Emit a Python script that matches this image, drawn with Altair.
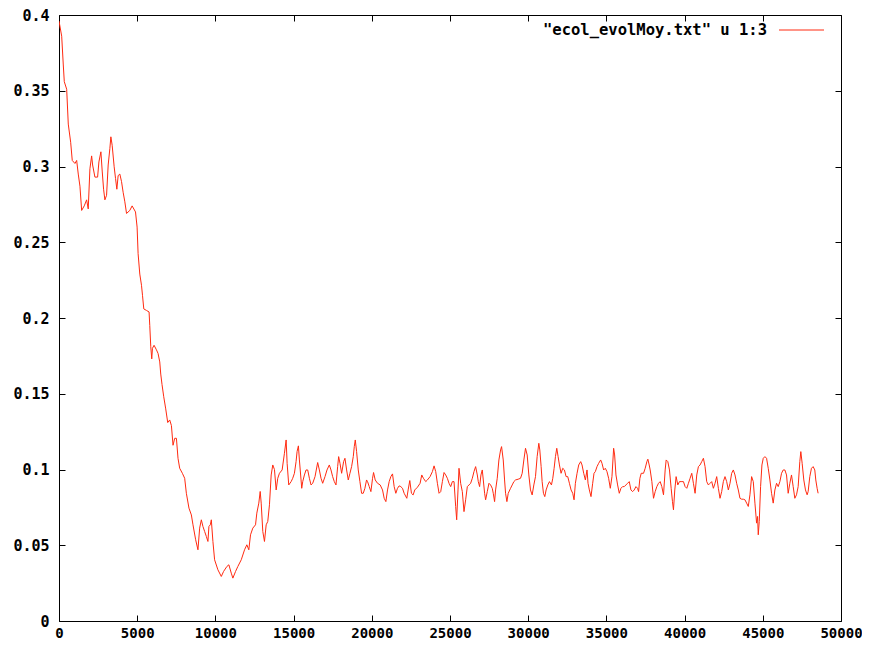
import altair as alt
import pandas as pd

# ---- data ----
generation = [
    0, 172, 274, 338, 491, 593, 746, 848, 1020, 1129, 1231, 1339, 1448, 1614, 1767, 1869,
    1977, 2086, 2149, 2296, 2468, 2551, 2679, 2762, 2851, 2934, 3042, 3144, 3253, 3316,
    3399, 3527, 3616, 3699, 3782, 3890, 3999, 4101, 4209, 4318, 4528, 4675, 4892, 4994,
    5058, 5166, 5274, 5338, 5421, 5593, 5759, 5804, 5868, 5931, 5976, 6078, 6231, 6333,
    6442, 6505, 6588, 6697, 6824, 6952, 7079, 7188, 7290, 7398, 7507, 7609, 7717, 7889,
    8036, 8144, 8310, 8463, 8566, 8738, 8884, 8993, 9101, 9203, 9312, 9420, 9522, 9586,
    9675, 9739, 9841, 9949, 10160, 10377, 10523, 10734, 10861, 11015, 11117, 11289, 11436,
    11653, 11863, 12010, 12137, 12246, 12392, 12565, 12648, 12775, 12864, 12928, 13030,
    13138, 13247, 13349, 13457, 13566, 13668, 13776, 13885, 13987, 14095, 14267, 14414,
    14523, 14586, 14689, 14841, 14943, 15052, 15158, 15222, 15307, 15371, 15477, 15520,
    15584, 15690, 15796, 15902, 16009, 16115, 16221, 16370, 16540, 16647, 16753, 16859,
    17008, 17135, 17284, 17391, 17497, 17603, 17710, 17816, 17880, 17965, 18071, 18198,
    18283, 18390, 18496, 18602, 18709, 18815, 18879, 18943, 19028, 19134, 19240, 19347,
    19453, 19559, 19665, 19729, 19836, 19942, 20048, 20112, 20218, 20367, 20537, 20686,
    20792, 20899, 21005, 21111, 21217, 21324, 21430, 21536, 21643, 21749, 21855, 21962,
    22068, 22238, 22323, 22429, 22535, 22642, 22748, 22918, 23088, 23194, 23301, 23449,
    23556, 23726, 23875, 23981, 24087, 24194, 24300, 24406, 24513, 24619, 24725, 24831,
    24938, 25044, 25150, 25257, 25363, 25427, 25512, 25576, 25682, 25788, 25895, 26001,
    26107, 26214, 26320, 26427, 26533, 26639, 26746, 26809, 26894, 26979, 27064, 27128,
    27213, 27277, 27383, 27490, 27596, 27702, 27766, 27851, 27915, 28021, 28127, 28234,
    28297, 28404, 28489, 28553, 28638, 28723, 28872, 28978, 29084, 29190, 29360, 29509,
    29616, 29722, 29828, 29935, 30041, 30147, 30253, 30360, 30466, 30572, 30679, 30742,
    30827, 30891, 30976, 31061, 31146, 31253, 31359, 31486, 31572, 31657, 31742, 31827,
    31912, 31997, 32103, 32209, 32316, 32422, 32528, 32635, 32741, 32847, 32932, 33017,
    33124, 33230, 33357, 33442, 33549, 33655, 33761, 33825, 33910, 34016, 34123, 34208,
    34293, 34399, 34505, 34633, 34718, 34824, 34931, 35037, 35143, 35250, 35356, 35462,
    35526, 35611, 35717, 35823, 35930, 36036, 36142, 36249, 36355, 36461, 36568, 36674,
    36780, 36887, 36993, 37057, 37142, 37227, 37375, 37481, 37588, 37651, 37736, 37800,
    37907, 38013, 38119, 38225, 38332, 38438, 38544, 38651, 38757, 38821, 38927, 39033,
    39140, 39225, 39288, 39373, 39458, 39565, 39671, 39777, 39926, 40032, 40139, 40245,
    40351, 40458, 40564, 40670, 40777, 40883, 40989, 41096, 41202, 41308, 41414, 41521,
    41627, 41733, 41840, 41946, 42052, 42159, 42265, 42371, 42477, 42584, 42690, 42796,
    42903, 43009, 43115, 43222, 43328, 43434, 43540, 43647, 43753, 43859, 43966, 44072,
    44178, 44285, 44391, 44497, 44603, 44667, 44710, 44773, 44858, 44944, 45029, 45135,
    45241, 45348, 45454, 45560, 45666, 45773, 45879, 45985, 46092, 46198, 46304, 46411,
    46517, 46623, 46729, 46836, 46942, 47048, 47155, 47261, 47367, 47431, 47516, 47622,
    47729, 47835, 47899, 48005, 48111, 48218, 48324, 48388, 48473, 48537,
]

mean_value = [
    0.396, 0.386, 0.367, 0.356, 0.351, 0.328, 0.316, 0.304, 0.302, 0.304, 0.295, 0.287,
    0.271, 0.274, 0.278, 0.272, 0.2985, 0.307, 0.301, 0.293, 0.293, 0.303, 0.3097, 0.297,
    0.285, 0.278, 0.281, 0.301, 0.312, 0.3196, 0.314, 0.2998, 0.292, 0.285, 0.294, 0.295,
    0.290, 0.283, 0.2767, 0.269, 0.271, 0.274, 0.270, 0.260, 0.2425, 0.229, 0.2216, 0.215,
    0.206, 0.205, 0.204, 0.195, 0.181, 0.173, 0.180, 0.182, 0.179, 0.1766, 0.171, 0.163,
    0.156, 0.148, 0.140, 0.131, 0.1327, 0.129, 0.116, 0.1206, 0.1206, 0.1074, 0.1008,
    0.0975, 0.0942, 0.0843, 0.0745, 0.070, 0.0635, 0.0536, 0.047, 0.0613, 0.0668, 0.0624,
    0.0591, 0.0558, 0.0525, 0.0624, 0.0635, 0.0668, 0.0525, 0.0404, 0.0338, 0.0294,
    0.0327, 0.036, 0.0371, 0.0316, 0.0283, 0.0327, 0.036, 0.0404, 0.047, 0.0503, 0.047,
    0.0569, 0.0613, 0.0635, 0.0712, 0.0778, 0.0855, 0.0778, 0.0591, 0.0525, 0.0635,
    0.0657, 0.0767, 0.0964, 0.103, 0.100, 0.0865, 0.0942, 0.0975, 0.0997, 0.1107, 0.1195,
    0.104, 0.0898, 0.092, 0.0942, 0.0975, 0.1052, 0.1118, 0.1156, 0.1063, 0.0931, 0.0876,
    0.0920, 0.0964, 0.0997, 0.0997, 0.0942, 0.0898, 0.0909, 0.0953, 0.1046, 0.0997,
    0.0942, 0.0909, 0.0953, 0.0997, 0.1030, 0.0997, 0.0953, 0.0920, 0.0898, 0.1019,
    0.1085, 0.1041, 0.0975, 0.1052, 0.1074, 0.0997, 0.0931, 0.0975, 0.1019, 0.1085,
    0.1151, 0.1195, 0.1118, 0.0997, 0.0920, 0.0843, 0.0843, 0.0876, 0.0931, 0.0920,
    0.0887, 0.0854, 0.0942, 0.0980, 0.0931, 0.0909, 0.0898, 0.0865, 0.0810, 0.0788,
    0.0865, 0.0920, 0.0953, 0.0971, 0.0887, 0.0843, 0.0876, 0.0892, 0.0887, 0.0876,
    0.0843, 0.0810, 0.0865, 0.0927, 0.0843, 0.0832, 0.0865, 0.0883, 0.0909, 0.0964,
    0.0942, 0.0920, 0.0931, 0.0953, 0.0986, 0.1024, 0.0986, 0.0909, 0.0843, 0.0854,
    0.0920, 0.0980, 0.0964, 0.0942, 0.0909, 0.0887, 0.0920, 0.0920, 0.0755, 0.0668,
    0.0865, 0.1008, 0.0909, 0.0854, 0.0722, 0.0800, 0.0887, 0.0898, 0.0909, 0.0942,
    0.0986, 0.1019, 0.0964, 0.0920, 0.0887, 0.0964, 0.0997, 0.0931, 0.0843, 0.0800,
    0.0854, 0.0909, 0.0898, 0.0876, 0.0843, 0.0788, 0.0865, 0.0942, 0.1063, 0.1129,
    0.1151, 0.1063, 0.0931, 0.0843, 0.0788, 0.0843, 0.0876, 0.0898, 0.0920, 0.0931,
    0.0936, 0.0942, 0.0975, 0.1063, 0.1140, 0.1096, 0.0964, 0.0865, 0.0832, 0.0898,
    0.0953, 0.1085, 0.1173, 0.1129, 0.1019, 0.0920, 0.0843, 0.0821, 0.0865, 0.0898,
    0.0920, 0.0898, 0.0942, 0.1008, 0.1085, 0.1140, 0.1085, 0.1030, 0.0975, 0.1008,
    0.0997, 0.0953, 0.0953, 0.0909, 0.0865, 0.0843, 0.0800, 0.0909, 0.0975, 0.1030,
    0.1052, 0.1030, 0.0975, 0.0931, 0.0997, 0.0909, 0.0865, 0.0821, 0.0909, 0.0975,
    0.0986, 0.1019, 0.1041, 0.1063, 0.1041, 0.0997, 0.1008, 0.0986, 0.0942, 0.0876,
    0.0953, 0.1140, 0.1096, 0.0964, 0.0898, 0.0843, 0.0876, 0.0887, 0.0887, 0.0898,
    0.0909, 0.0920, 0.0865, 0.0854, 0.0865, 0.0887, 0.0876, 0.0854, 0.0942, 0.0975,
    0.0975, 0.1008, 0.1052, 0.1068, 0.1030, 0.0997, 0.0920, 0.0810, 0.0854, 0.0887,
    0.0909, 0.0920, 0.0887, 0.0833, 0.0997, 0.1063, 0.1052, 0.0997, 0.0876, 0.0788,
    0.0734, 0.0865, 0.0953, 0.0898, 0.0920, 0.0920, 0.0920, 0.0887, 0.0876, 0.0909,
    0.0942, 0.0975, 0.0909, 0.0843, 0.0964, 0.1019, 0.1030, 0.1052, 0.1074, 0.1019,
    0.0920, 0.0898, 0.0909, 0.0920, 0.0876, 0.0909, 0.0953, 0.0876, 0.0810, 0.0854,
    0.0920, 0.0953, 0.0920, 0.0865, 0.0909, 0.0975, 0.0997, 0.0964, 0.0909, 0.0865,
    0.0810, 0.0804, 0.0804, 0.0800, 0.0778, 0.0756, 0.0833, 0.0953, 0.0920, 0.0778,
    0.0646, 0.0690, 0.0569, 0.0657, 0.0887, 0.1030, 0.1074, 0.1085, 0.1074, 0.1008,
    0.0931, 0.0843, 0.0778, 0.0865, 0.0909, 0.0887, 0.0920, 0.0975, 0.0997, 0.0997,
    0.0964, 0.0843, 0.0909, 0.0964, 0.0887, 0.0810, 0.0833, 0.0887, 0.1052, 0.1118,
    0.1041, 0.0931, 0.0865, 0.0833, 0.0854, 0.0953, 0.1008, 0.1019, 0.0997, 0.0931,
    0.0876, 0.0843,
]

x_ticks = [0, 5000, 10000, 15000, 20000, 25000, 30000, 35000, 40000, 45000, 50000]
y_ticks = [0, 0.05, 0.1, 0.15, 0.2, 0.25, 0.3, 0.35, 0.4]
series_label = ['"ecol_evolMoy.txt" u 1:3']

# ---- chart ----
FONT = "DejaVu Sans Mono"
LINE_COLOR = "#ff2a10"
W, H = 782, 606

df = pd.DataFrame({"gen": generation, "val": mean_value})
xs = alt.Scale(domain=[0, 50000], nice=False, zero=False)
ys = alt.Scale(domain=[0, 0.4], nice=False, zero=False)

lab = dict(labelFont=FONT, labelFontWeight="bold", labelColor="black",
           labelFlush=False, labelOverlap=False, grid=False, domain=False, ticks=False, title=None)
tk = dict(labels=False, grid=False, domain=False, ticks=True, tickSize=6, tickColor="black",
          tickWidth=1, offset=-6, title=None)

base = alt.Chart(df)

line = base.mark_line(color=LINE_COLOR, strokeWidth=1, clip=True).encode(
    x=alt.X("gen:Q", scale=xs, axis=alt.Axis(values=x_ticks, format="d", orient="bottom",
                                             labelPadding=5, labelFontSize=14, **lab)),
    y=alt.Y("val:Q", scale=ys, axis=alt.Axis(values=y_ticks, format="~g", orient="left",
                                             labelPadding=10, labelFontSize=15, **lab)),
)

ticks_bl = base.mark_point(opacity=0).encode(
    x=alt.X("gen:Q", scale=xs, axis=alt.Axis(values=x_ticks, orient="bottom", **tk)),
    y=alt.Y("val:Q", scale=ys, axis=alt.Axis(values=y_ticks, orient="left", **tk)),
)

ticks_tr = base.mark_point(opacity=0).encode(
    x=alt.X("gen:Q", scale=xs, axis=alt.Axis(values=x_ticks, orient="top", **tk)),
    y=alt.Y("val:Q", scale=ys, axis=alt.Axis(values=y_ticks, orient="right", **tk)),
)

key_df = pd.DataFrame({"label": series_label})
key_text = alt.Chart(key_df).mark_text(
    font=FONT, fontSize=15.5, fontWeight="bold", color="black", align="right", baseline="middle"
).encode(text="label:N", x=alt.value(708), y=alt.value(15))
key_line = alt.Chart(key_df).mark_rule(color=LINE_COLOR, strokeWidth=1).encode(
    x=alt.value(720), x2=alt.value(765), y=alt.value(15)
)

chart = alt.layer(line, ticks_bl, ticks_tr, key_text, key_line).resolve_scale(
    x="independent", y="independent"
).properties(
    width=W, height=H,
    autosize=alt.AutoSizeParams(type="none"),
    padding={"left": 51, "top": 7, "right": 21, "bottom": 20},
    background="white",
).configure_view(stroke="black", strokeWidth=1)

chart.save("out.html", embed_options={"renderer": "svg", "actions": False})
